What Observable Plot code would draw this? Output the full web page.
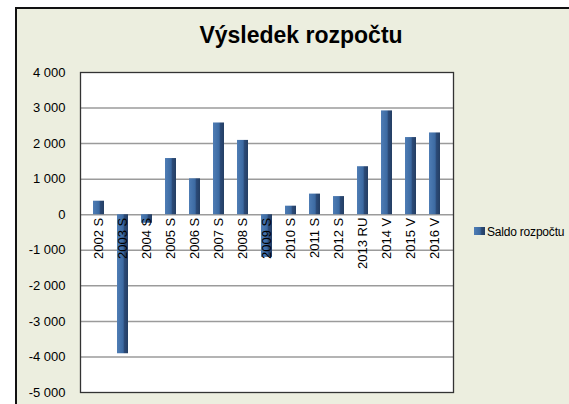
<!DOCTYPE html>
<html>
<head>
<meta charset="utf-8">
<script src="https://cdn.jsdelivr.net/npm/d3@7"></script>
<script src="https://cdn.jsdelivr.net/npm/@observablehq/plot@0.6"></script>
<style>
  body { margin: 0; background: #ffffff; }
  #wrap { position: relative; width: 569px; height: 404px; overflow: hidden; font-family: "Liberation Sans", Arial, sans-serif; }
  #bg { position: absolute; left: 15px; top: 7px; width: 620px; height: 460px; background: #eceedf; border: 2px solid #111; }
  #title { position: absolute; left: 0; width: 602px; top: 21px; text-align: center; font-weight: bold; font-size: 23px; color: #000; line-height: 28px; }
  #chart { position: absolute; left: 0; top: 0; }
  #legend { position: absolute; left: 474px; top: 224px; font-size: 12px; letter-spacing: -0.2px; white-space: nowrap; color: #000; line-height: 16px; }
  #legend .sw { display: inline-block; width: 11px; height: 8px; background: linear-gradient(90deg, #4f7db5, #3c6aa2 55%, #2a4873 70%, #243e63); margin-right: 2px; vertical-align: 1px; }
</style>
</head>
<body>
<div id="wrap">
  <div id="bg"></div>
  <div id="title">Výsledek rozpočtu</div>
  <div id="chart"></div>
  <div id="legend"><span class="sw"></span>Saldo rozpočtu</div>
</div>
<script>
const categories = ["2002 S","2003 S","2004 S","2005 S","2006 S","2007 S","2008 S","2009 S","2010 S","2011 S","2012 S","2013 RU","2014 V","2015 V","2016 V"];
const saldo = [380, -3910, -240, 1580, 1010, 2580, 2090, -1200, 240, 580, 510, 1350, 2920, 2170, 2300];
const yTicks = [-5000, -4000, -3000, -2000, -1000, 0, 1000, 2000, 3000, 4000];
const gridValues = [-4000, -3000, -2000, -1000, 0, 1000, 2000, 3000];

const data = categories.map((c, i) => ({cat: c, value: saldo[i]}));
const fmt = d => (d < 0 ? "-" : "") + String(Math.abs(d)).replace(/\B(?=(\d{3})+(?!\d))/g, " ");

const chart = Plot.plot({
  width: 569,
  height: 404,
  marginLeft: 80,
  marginRight: 116,
  marginTop: 72,
  marginBottom: 12,
  style: {background: "transparent", fontFamily: "'Liberation Sans', Arial, sans-serif", fontSize: "13px", color: "#000"},
  x: {domain: categories, paddingInner: 0.55, paddingOuter: 0.275, axis: null},
  y: {domain: [-5000, 4000], ticks: yTicks, tickFormat: fmt, tickSize: 0, tickPadding: 15, label: null},
  marks: [
    Plot.frame({fill: "white", stroke: "none"}),
    Plot.ruleY(gridValues, {stroke: "#9b9b9b", strokeWidth: 1.5}),
    Plot.barY(data, {x: "cat", y: "value", fill: "url(#barGrad)"}),
    Plot.text(data, {x: "cat", y: () => 0, text: "cat", rotate: -90, textAnchor: "end", lineAnchor: "middle", dy: 3, fontSize: 13, fill: "#000"}),
    Plot.frame({stroke: "#333", strokeWidth: 1.3})
  ]
});

const ns = "http://www.w3.org/2000/svg";
const defs = document.createElementNS(ns, "defs");
defs.innerHTML = `<linearGradient id="barGrad" x1="0" x2="1" y1="0" y2="0">
  <stop offset="0%" stop-color="#4f7db5"/>
  <stop offset="55%" stop-color="#3c6aa2"/>
  <stop offset="68%" stop-color="#2b4a77"/>
  <stop offset="100%" stop-color="#243e63"/>
</linearGradient>`;
chart.insertBefore(defs, chart.firstChild);
document.getElementById("chart").appendChild(chart);
</script>
</body>
</html>
